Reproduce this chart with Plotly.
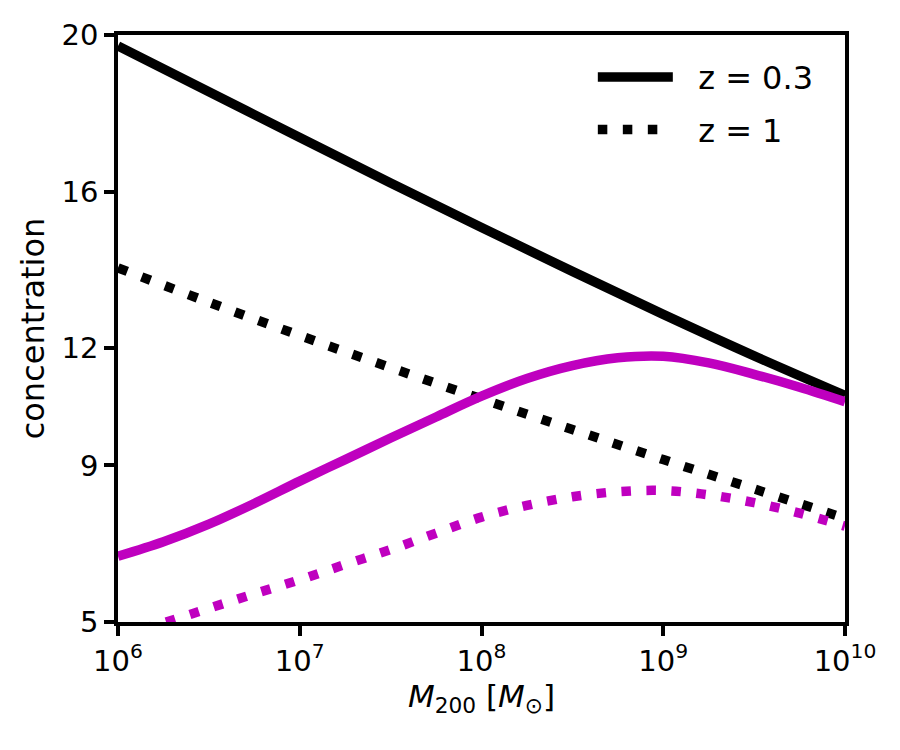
import plotly.graph_objects as go

# Halo mass M200 [M_sun]: half-decade steps for the black curves
mass_half = [1e6, 10**6.5, 1e7, 10**7.5, 1e8, 10**8.5, 1e9, 10**9.5, 1e10]
# quarter-decade steps for the magenta curves
mass_quarter = [1e6, 10**6.25, 10**6.5, 10**6.75, 1e7, 10**7.25, 10**7.5, 10**7.75,
                1e8, 10**8.25, 10**8.5, 10**8.75, 1e9, 10**9.25, 10**9.5, 10**9.75, 1e10]

# Concentration curves
c_black_z03 = [19.72, 18.55, 17.38, 16.22, 15.08, 13.96, 12.86, 11.80, 10.79]
c_black_z1 = [14.05, 13.17, 12.32, 11.50, 10.70, 9.92, 9.15, 8.40, 7.65]
c_mag_z03 = [6.68, 7.05, 7.50, 8.03, 8.60, 9.15, 9.70, 10.24, 10.77,
             11.22, 11.55, 11.75, 11.79, 11.62, 11.33, 11.00, 10.63]
c_mag_z1 = [4.65, 4.98, 5.35, 5.72, 6.08, 6.47, 6.85, 7.27, 7.68,
            7.98, 8.20, 8.33, 8.36, 8.25, 8.05, 7.78, 7.45]

y_ticks = [5, 9, 12, 16, 20]
x_ticks = [1e6, 1e7, 1e8, 1e9, 1e10]
x_ticktext = ["10<sup>6</sup>", "10<sup>7</sup>", "10<sup>8</sup>", "10<sup>9</sup>", "10<sup>10</sup>"]
legend_names = ["\u00a0\u00a0z = 0.3", "\u00a0\u00a0z = 1"]

BLACK = "#000000"
MAGENTA = "#BF00BF"
LW = 9.5
DOT = "9.5px,15.5px"

fig = go.Figure()
fig.add_trace(go.Scatter(x=mass_half, y=c_black_z03, mode="lines", name=legend_names[0],
                         legendgroup="a",
                         line=dict(color=BLACK, width=LW, shape="spline")))
fig.add_trace(go.Scatter(x=mass_half, y=c_black_z1, mode="lines", name=legend_names[1],
                         legendgroup="b",
                         line=dict(color=BLACK, width=LW, dash=DOT, shape="spline")))
fig.add_trace(go.Scatter(x=mass_quarter, y=c_mag_z03, mode="lines", showlegend=False,
                         line=dict(color=MAGENTA, width=LW, shape="spline")))
fig.add_trace(go.Scatter(x=mass_quarter, y=c_mag_z1, mode="lines", showlegend=False,
                         line=dict(color=MAGENTA, width=LW, dash=DOT, shape="spline")))

axis_common = dict(showline=True, linecolor="black", linewidth=3.5, mirror=True,
                   ticks="outside", ticklen=10, tickwidth=3.5, tickcolor="black",
                   showgrid=False, zeroline=False,
                   tickfont=dict(family="DejaVu Sans", size=29, color="black"))

fig.update_xaxes(type="log", range=[6, 10], tickvals=x_ticks, ticktext=x_ticktext,
                 title=dict(text="<i>M</i><sub>200</sub> [<i>M</i><sub>⊙</sub>]",
                            font=dict(family="DejaVu Sans", size=31, color="black"),
                            standoff=4),
                 **axis_common)
fig.update_yaxes(range=[5, 20], tickvals=y_ticks,
                 title=dict(text="concentration",
                            font=dict(family="DejaVu Sans", size=32, color="black"),
                            standoff=8),
                 **axis_common)

fig.update_layout(
    width=900, height=750,
    margin=dict(l=118, r=55, t=35, b=128),
    paper_bgcolor="white", plot_bgcolor="white",
    font=dict(family="DejaVu Sans", color="black"),
    legend=dict(x=0.964, y=0.975, xanchor="right", yanchor="top",
                bgcolor="rgba(0,0,0,0)", borderwidth=0,
                font=dict(family="DejaVu Sans", size=32, color="black"),
                itemwidth=75, tracegroupgap=8),
)

fig.write_html("out.html")
